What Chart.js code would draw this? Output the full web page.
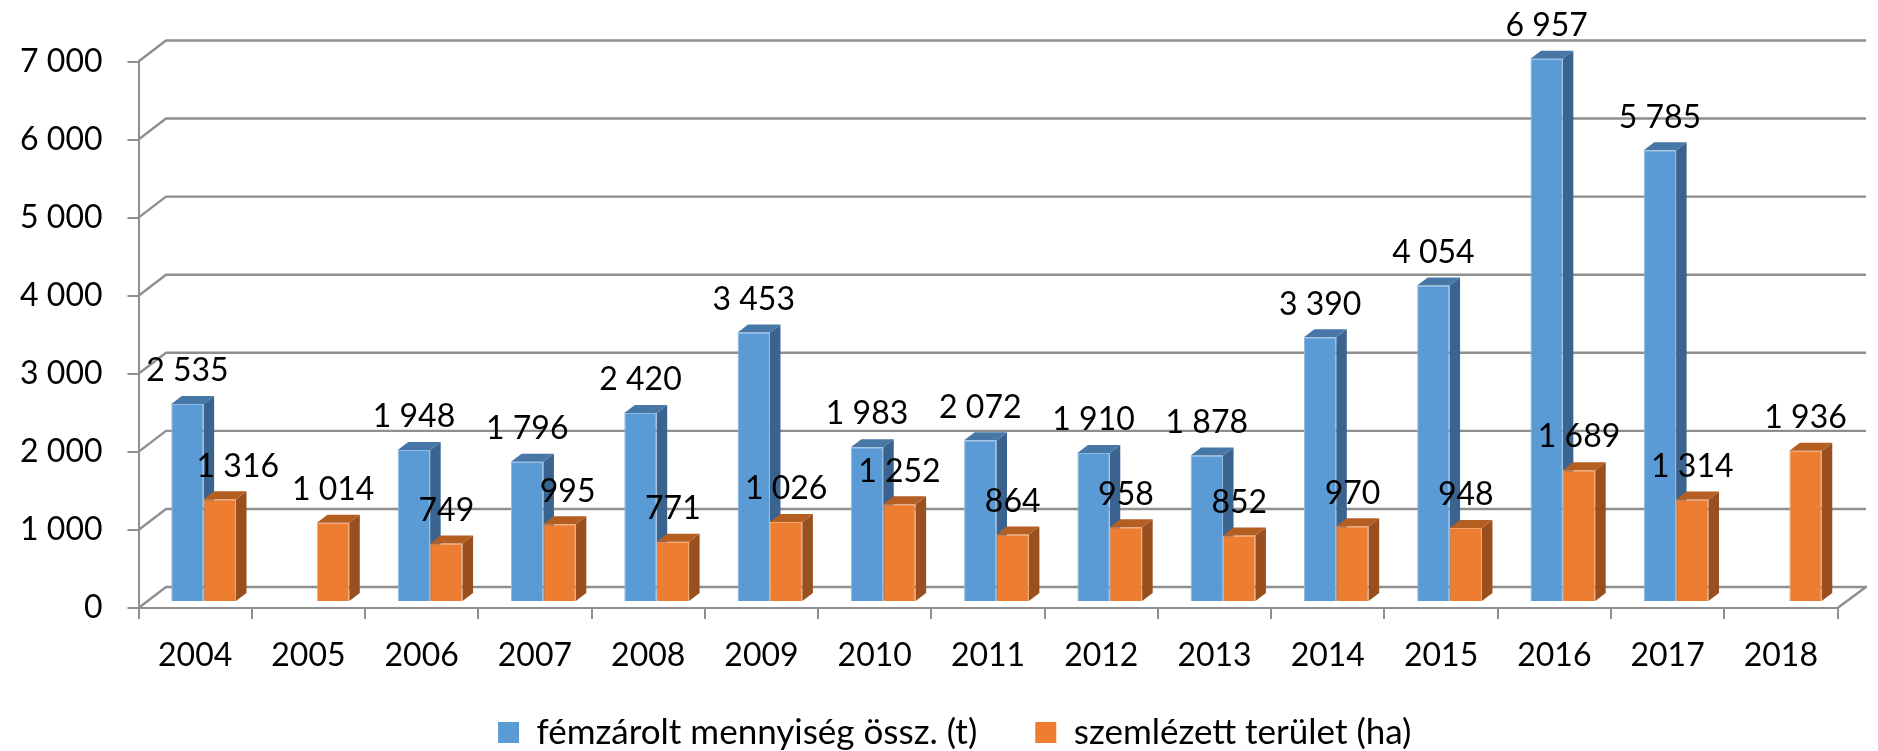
<!DOCTYPE html>
<html><head><meta charset="utf-8">
<style>html,body{margin:0;padding:0;background:#fff}canvas{display:block}</style>
<script src="https://cdn.jsdelivr.net/npm/chart.js@4"></script>
</head><body><canvas id="c" width="1878" height="751"></canvas>
<script>
const years = ['2004','2005','2006','2007','2008','2009','2010','2011','2012','2013','2014','2015','2016','2017','2018'];
const metalTons = [2535,null,1948,1796,2420,3453,1983,2072,1910,1878,3390,4054,6957,5785,null];
const surveyedHa = [1316,1014,749,995,771,1026,1252,864,958,852,970,948,1689,1314,1936];
const seriesNames = ['fémzárolt mennyiség össz. (t)','szemlézett terület (ha)'];
const yTicks = [0,1000,2000,3000,4000,5000,6000,7000];

const FONT = 'Lato, Carlito, sans-serif';
const FS = 32, GRID = '#8f8f8f';
const fmt = v => String(v).replace(/\B(?=(\d{3})+$)/g,' ');
const faces = [{front:'#5B9BD5',edge:'#8DB9E2',side:'#3A648F',top:'#4677A6'},{front:'#ED7D31',edge:'#F3A56F',side:'#9A501E',top:'#B45E22'}];
const BAR = {dx:8.5, dy:-6, depthX:10.5, depthY:8};
const WALL = {dx:27.5, dy:-21};
const labelNudge = {'1:0':18, '1:3':8};

function drawFaces(chart, index){
  const ctx = chart.ctx, f = faces[index];
  chart.getDatasetMeta(index).data.forEach((el,i)=>{
    if(chart.data.datasets[index].data[i]==null) return;
    const x0 = el.x-el.width/2, x1 = el.x+el.width/2, t = el.y, b = el.base;
    ctx.fillStyle = f.side;
    ctx.beginPath(); ctx.moveTo(x1,t); ctx.lineTo(x1+BAR.depthX,t-BAR.depthY);
    ctx.lineTo(x1+BAR.depthX,b-BAR.depthY); ctx.lineTo(x1,b); ctx.closePath(); ctx.fill();
    ctx.fillStyle = f.top;
    ctx.beginPath(); ctx.moveTo(x0,t); ctx.lineTo(x1,t);
    ctx.lineTo(x1+BAR.depthX,t-BAR.depthY); ctx.lineTo(x0+BAR.depthX,t-BAR.depthY); ctx.closePath(); ctx.fill();
  });
}

const threeD = {
  id:'threeD',
  afterLayout(chart){
    // legend text line sits below the year labels; its item gap is carried by labels.padding
    const L = chart.legend, h = L.bottom - L.top;
    L.top = 657; L.bottom = 657 + h; L.left += 36; L.right += 36;
  },
  beforeDatasetsDraw(chart){
    const {ctx,scales:{y},chartArea:a} = chart;
    ctx.save(); ctx.strokeStyle = GRID; ctx.lineWidth = 2.4; ctx.lineJoin='round';
    yTicks.forEach(t=>{
      const py = y.getPixelForValue(t);
      ctx.beginPath();
      ctx.moveTo(a.left,py);
      ctx.lineTo(a.left+WALL.dx,py+WALL.dy);
      ctx.lineTo(a.right+WALL.dx+1,py+WALL.dy);
      if(t===0) ctx.lineTo(a.right,py);
      ctx.stroke();
    });
    ctx.restore();
    ctx.save(); ctx.translate(BAR.dx,BAR.dy); drawFaces(chart,0); ctx.restore();
  },
  beforeDatasetDraw(chart,args){
    chart.ctx.save();
    chart.ctx.translate(BAR.dx,BAR.dy);
  },
  afterDatasetDraw(chart,args){
    if(args.index===1) drawFaces(chart,1);
    chart.ctx.restore();
  },
  afterDraw(chart){
    const ctx = chart.ctx;
    ctx.save();
    ctx.font = `${FS}px ${FONT}`; ctx.fillStyle='#000'; ctx.textAlign='center'; ctx.textBaseline='middle';
    chart.data.datasets.forEach((ds,di)=>{
      chart.getDatasetMeta(di).data.forEach((el,i)=>{
        if(ds.data[i]==null) return;
        ctx.fillText(fmt(ds.data[i]), el.x+BAR.dx+(labelNudge[di+':'+i]||0), el.y+BAR.dy-33);
      });
    });
    ctx.restore();
  }
};

new Chart(document.getElementById('c'),{
  type:'bar',
  data:{labels:years,datasets:[
    {label:seriesNames[0],data:metalTons,backgroundColor:faces[0].front,borderColor:faces[0].edge,borderWidth:1,clip:false,
     categoryPercentage:0.572,barPercentage:1},
    {label:seriesNames[1],data:surveyedHa,backgroundColor:faces[1].front,borderColor:faces[1].edge,borderWidth:1,clip:false,
     categoryPercentage:0.572,barPercentage:1}
  ]},
  options:{
    responsive:false,animation:false,
    layout:{padding:{left:0,right:40.5,top:61.5,bottom:-30}},
    plugins:{
      tooltip:{enabled:false},
      legend:{position:'bottom',labels:{boxWidth:21,boxHeight:21,padding:58,color:'#000',font:{family:FONT,size:35},
        generateLabels(chart){ return chart.data.datasets.map((d,i)=>({text:d.label,fillStyle:faces[i].front,strokeStyle:faces[i].front,lineWidth:0,datasetIndex:i,fontColor:'#000'})); }}}
    },
    scales:{
      x:{
        grid:{drawOnChartArea:false,tickLength:11,color:GRID,lineWidth:2},
        border:{color:GRID,width:2},
        ticks:{color:'#000',font:{family:FONT,size:FS},padding:17,autoSkip:false,maxRotation:0},
        afterFit(s){ s.height = 70; }
      },
      y:{
        min:0,max:7000,
        grid:{drawOnChartArea:false,tickLength:11,color:GRID,lineWidth:2},
        border:{color:GRID,width:2},
        ticks:{color:'#000',font:{family:FONT,size:FS},padding:25,stepSize:1000,callback:v=>fmt(v)},
        afterFit(s){ s.width = 138.5; }
      }
    }
  },
  plugins:[threeD]
});
</script></body></html>
